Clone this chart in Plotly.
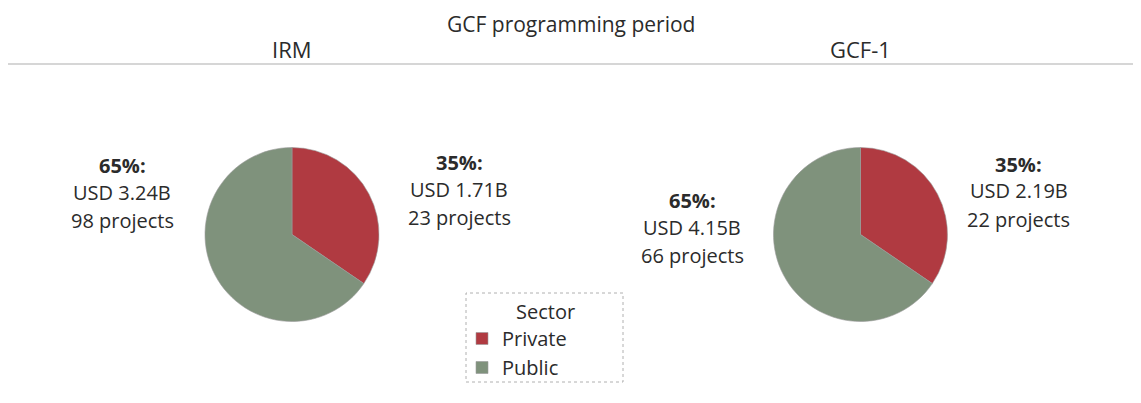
import plotly.graph_objects as go

periods = ["IRM", "GCF-1"]
sectors = ["Private", "Public"]
usd_billions = {"IRM": [1.71, 3.24], "GCF-1": [2.19, 4.15]}
projects = {"IRM": [23, 98], "GCF-1": [22, 66]}
colors = ["#B03A41", "#7F927C"]

# the page body has an 8px margin, so the figure is drawn 8px in from the window edge
OFF = 8
W, H = 1141 - 2 * OFF, 403 - 2 * OFF
FONT = "Open Sans"
TXT = "#2b2b2b"

# layout in window pixels
pie_centers = {"IRM": (292, 234.5), "GCF-1": (860.5, 234.5)}
R = 87
label_pos = {
    "IRM": {"Public": (122, 165), "Private": (459, 162)},
    "GCF-1": {"Public": (692, 200), "Private": (1019, 164)},
}

def px(x):
    return (x - OFF) / W

def py(y):
    return 1 - (y - OFF) / H

fig = go.Figure()
for i, p in enumerate(periods):
    cx, cy = pie_centers[p]
    fig.add_trace(go.Pie(
        labels=sectors,
        values=usd_billions[p],
        marker=dict(colors=colors, line=dict(color="#9a9a9a", width=0.6)),
        sort=False,
        direction="clockwise",
        rotation=0,
        textinfo="none",
        hoverinfo="label+value",
        showlegend=(i == 0),
        domain=dict(x=[px(cx - R), px(cx + R)], y=[py(cy + R), py(cy - R)]),
    ))

def ann(text, x, y, size, yanchor="middle"):
    return dict(text=text, x=px(x), y=py(y), xref="paper", yref="paper",
                xanchor="center", yanchor=yanchor, showarrow=False,
                font=dict(size=size, color=TXT, family=FONT))

annotations = [ann("GCF programming period", 571, OFF, 21, yanchor="top")]
for p in periods:
    cx, _ = pie_centers[p]
    annotations.append(ann(p, cx, 49, 22))
    total = sum(usd_billions[p])
    for j, s in enumerate(sectors):
        v = usd_billions[p][j]
        pct = round(100 * v / total)
        x, y = label_pos[p][s]
        annotations.append(ann(f"<b>{pct}%:</b>", x, y, 20))
        annotations.append(ann(f"USD {v:.2f}B", x, y + 27, 20))
        annotations.append(ann(f"{projects[p][j]} projects", x, y + 55, 20))
annotations.append(ann("Sector", 545, 311, 20))

shapes = [
    dict(type="line", xref="paper", yref="paper", x0=px(8), x1=px(1133), y0=py(64), y1=py(64),
         line=dict(color="#c8c8c8", width=1.5)),
    dict(type="rect", xref="paper", yref="paper", x0=px(466), x1=px(623), y0=py(382), y1=py(293),
         line=dict(color="#b0b0b0", width=1, dash="dot")),
]

fig.update_layout(
    width=W, height=H,
    margin=dict(l=0, r=0, t=0, b=0),
    paper_bgcolor="white", plot_bgcolor="white",
    annotations=annotations,
    shapes=shapes,
    legend=dict(
        x=px(462), xanchor="left", y=py(319), yanchor="top",
        font=dict(size=20, color=TXT, family=FONT),
        bgcolor="rgba(0,0,0,0)", borderwidth=0,
        itemwidth=30, tracegroupgap=0,
    ),
)

fig.write_html("out.html")
